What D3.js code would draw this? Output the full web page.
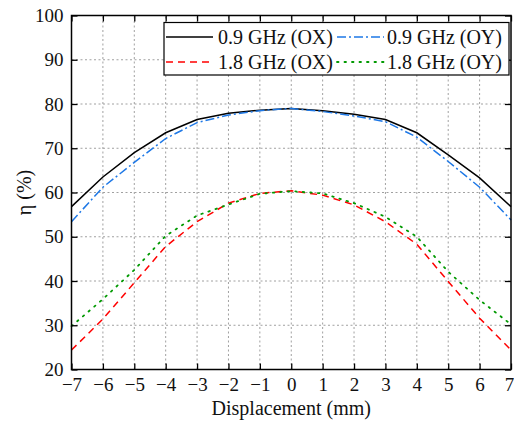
<!DOCTYPE html>
<html>
<head>
<meta charset="utf-8">
<script src="https://cdn.jsdelivr.net/npm/d3@7/dist/d3.min.js"></script>
<style>
  body { margin: 0; background: #fff; }
  svg { display: block; font-family: "Liberation Serif", "Times New Roman", serif; }
</style>
</head>
<body>
<svg id="chart" width="514" height="433"></svg>
<script>
// Displacement positions (mm)
const displacement = [-7, -6, -5, -4, -3, -2, -1, 0, 1, 2, 3, 4, 5, 6, 7];

// Efficiency (%) for each frequency / direction
const eff09OX = [56.8, 63.5, 69.0, 73.5, 76.5, 77.9, 78.6, 79.0, 78.5, 77.7, 76.5, 73.5, 68.5, 63.3, 56.8];
const eff09OY = [53.4, 61.2, 66.8, 72.2, 75.8, 77.5, 78.5, 79.0, 78.3, 77.3, 76.0, 72.5, 67.0, 61.2, 53.8];
const eff18OX = [24.4, 31.4, 39.6, 47.8, 53.4, 57.6, 59.8, 60.4, 59.4, 57.2, 53.4, 48.3, 39.9, 31.6, 24.4];
const eff18OY = [29.8, 35.9, 42.5, 50.2, 54.8, 57.3, 59.7, 60.3, 59.8, 57.6, 54.5, 50.0, 42.1, 35.7, 30.2];

const seriesNames = ["0.9 GHz (OX)", "0.9 GHz (OY)", "1.8 GHz (OX)", "1.8 GHz (OY)"];
const xTicks = [-7, -6, -5, -4, -3, -2, -1, 0, 1, 2, 3, 4, 5, 6, 7];
const yTicks = [20, 30, 40, 50, 60, 70, 80, 90, 100];

const series = [
  { name: seriesNames[0], values: eff09OX, color: "#000000", dash: null, width: 1.5 },
  { name: seriesNames[1], values: eff09OY, color: "#1e78e6", dash: "9,3,2,3", width: 1.5 },
  { name: seriesNames[2], values: eff18OX, color: "#ff0000", dash: "7,5", width: 1.5 },
  { name: seriesNames[3], values: eff18OY, color: "#009900", dash: "1.5,6", width: 1.8 }
];

const margin = { left: 71.5, right: 3, top: 15.5, bottom: 63.5 };
const W = 514, H = 433;
const svg = d3.select("#chart");

const x = d3.scaleLinear().domain([-7, 7]).range([margin.left, W - margin.right]);
const y = d3.scaleLinear().domain([20, 100]).range([H - margin.bottom, margin.top]);

// Dotted grid
const grid = svg.append("g").attr("stroke", "#a0a0a0").attr("stroke-width", 1).attr("stroke-dasharray", "2,2.5");
grid.selectAll(".gx").data(xTicks.slice(1, -1)).join("line")
  .attr("x1", d => x(d)).attr("x2", d => x(d))
  .attr("y1", y(20)).attr("y2", y(100));
grid.selectAll(".gy").data(yTicks.slice(1, -1)).join("line")
  .attr("x1", x(-7)).attr("x2", x(7))
  .attr("y1", d => y(d)).attr("y2", d => y(d));

// Curves
const isDotted = s => s.dash && s.dash.startsWith("1.5");
const line = d3.line().x((d, i) => x(displacement[i])).y(d => y(d));
svg.append("g").selectAll("path").data(series).join("path")
  .attr("d", s => line(s.values))
  .attr("fill", "none")
  .attr("stroke", s => s.color)
  .attr("stroke-width", s => s.width)
  .attr("stroke-dasharray", s => s.dash)
  .attr("stroke-linecap", s => isDotted(s) ? "round" : "butt");

// Axes with inward ticks on all four sides
const tickLen = 6;
const tickFs = 19;
const titleFs = 20;
const axBottom = svg.append("g").attr("transform", `translate(0,${y(20)})`)
  .call(d3.axisBottom(x).tickValues(xTicks).tickSize(-tickLen).tickPadding(8)
    .tickFormat(d => d < 0 ? "\u2212" + Math.abs(d) : d));
const axTop = svg.append("g").attr("transform", `translate(0,${y(100)})`)
  .call(d3.axisTop(x).tickValues(xTicks).tickSize(-tickLen).tickFormat(""));
const axLeft = svg.append("g").attr("transform", `translate(${x(-7)},0)`)
  .call(d3.axisLeft(y).tickValues(yTicks).tickSize(-tickLen).tickPadding(8));
const axRight = svg.append("g").attr("transform", `translate(${x(7)},0)`)
  .call(d3.axisRight(y).tickValues(yTicks).tickSize(-tickLen).tickFormat(""));

[axBottom, axTop, axLeft, axRight].forEach(g => {
  g.select(".domain").remove();
  g.selectAll(".tick line").attr("stroke", "#000").attr("stroke-width", 1.3);
  g.selectAll("text").attr("font-family", "Liberation Serif, serif").attr("font-size", tickFs).attr("fill", "#111");
});
// keep the last x label inside the page edge
axBottom.selectAll(".tick").filter(d => d === 7).select("text").attr("dx", -2);

// Frame
svg.append("rect")
  .attr("x", x(-7)).attr("y", y(100))
  .attr("width", x(7) - x(-7)).attr("height", y(20) - y(100))
  .attr("fill", "none").attr("stroke", "#000").attr("stroke-width", 1.5);

// Axis titles
svg.append("text").attr("x", (x(-7) + x(7)) / 2).attr("y", 415)
  .attr("text-anchor", "middle").attr("font-size", titleFs).attr("fill", "#111")
  .text("Displacement (mm)");
svg.append("text").attr("transform", `translate(31,${(y(20) + y(100)) / 2}) rotate(-90)`)
  .attr("text-anchor", "middle").attr("font-size", titleFs).attr("fill", "#111")
  .text("\u03b7 (%)");

// Legend
const legend = svg.append("g");
legend.append("rect").attr("x", 164).attr("y", 22.5).attr("width", 345).attr("height", 52.5)
  .attr("fill", "#fff").attr("stroke", "#000").attr("stroke-width", 1.2);
const cols = [{ lx: 166, tx: 218 }, { lx: 337, tx: 387 }];
const rows = [37, 62];
const order = [[0, 0, 0], [1, 1, 0], [2, 0, 1], [3, 1, 1]];
order.forEach(([si, c, r]) => {
  const s = series[si];
  legend.append("line")
    .attr("x1", cols[c].lx).attr("x2", cols[c].lx + 47)
    .attr("y1", rows[r]).attr("y2", rows[r])
    .attr("stroke", s.color).attr("stroke-width", s.width)
    .attr("stroke-dasharray", s.dash)
    .attr("stroke-linecap", isDotted(s) ? "round" : "butt");
  legend.append("text").attr("x", cols[c].tx).attr("y", rows[r]).attr("dy", "0.33em")
    .attr("font-size", titleFs).attr("fill", "#111").text(s.name);
});
</script>
</body>
</html>
